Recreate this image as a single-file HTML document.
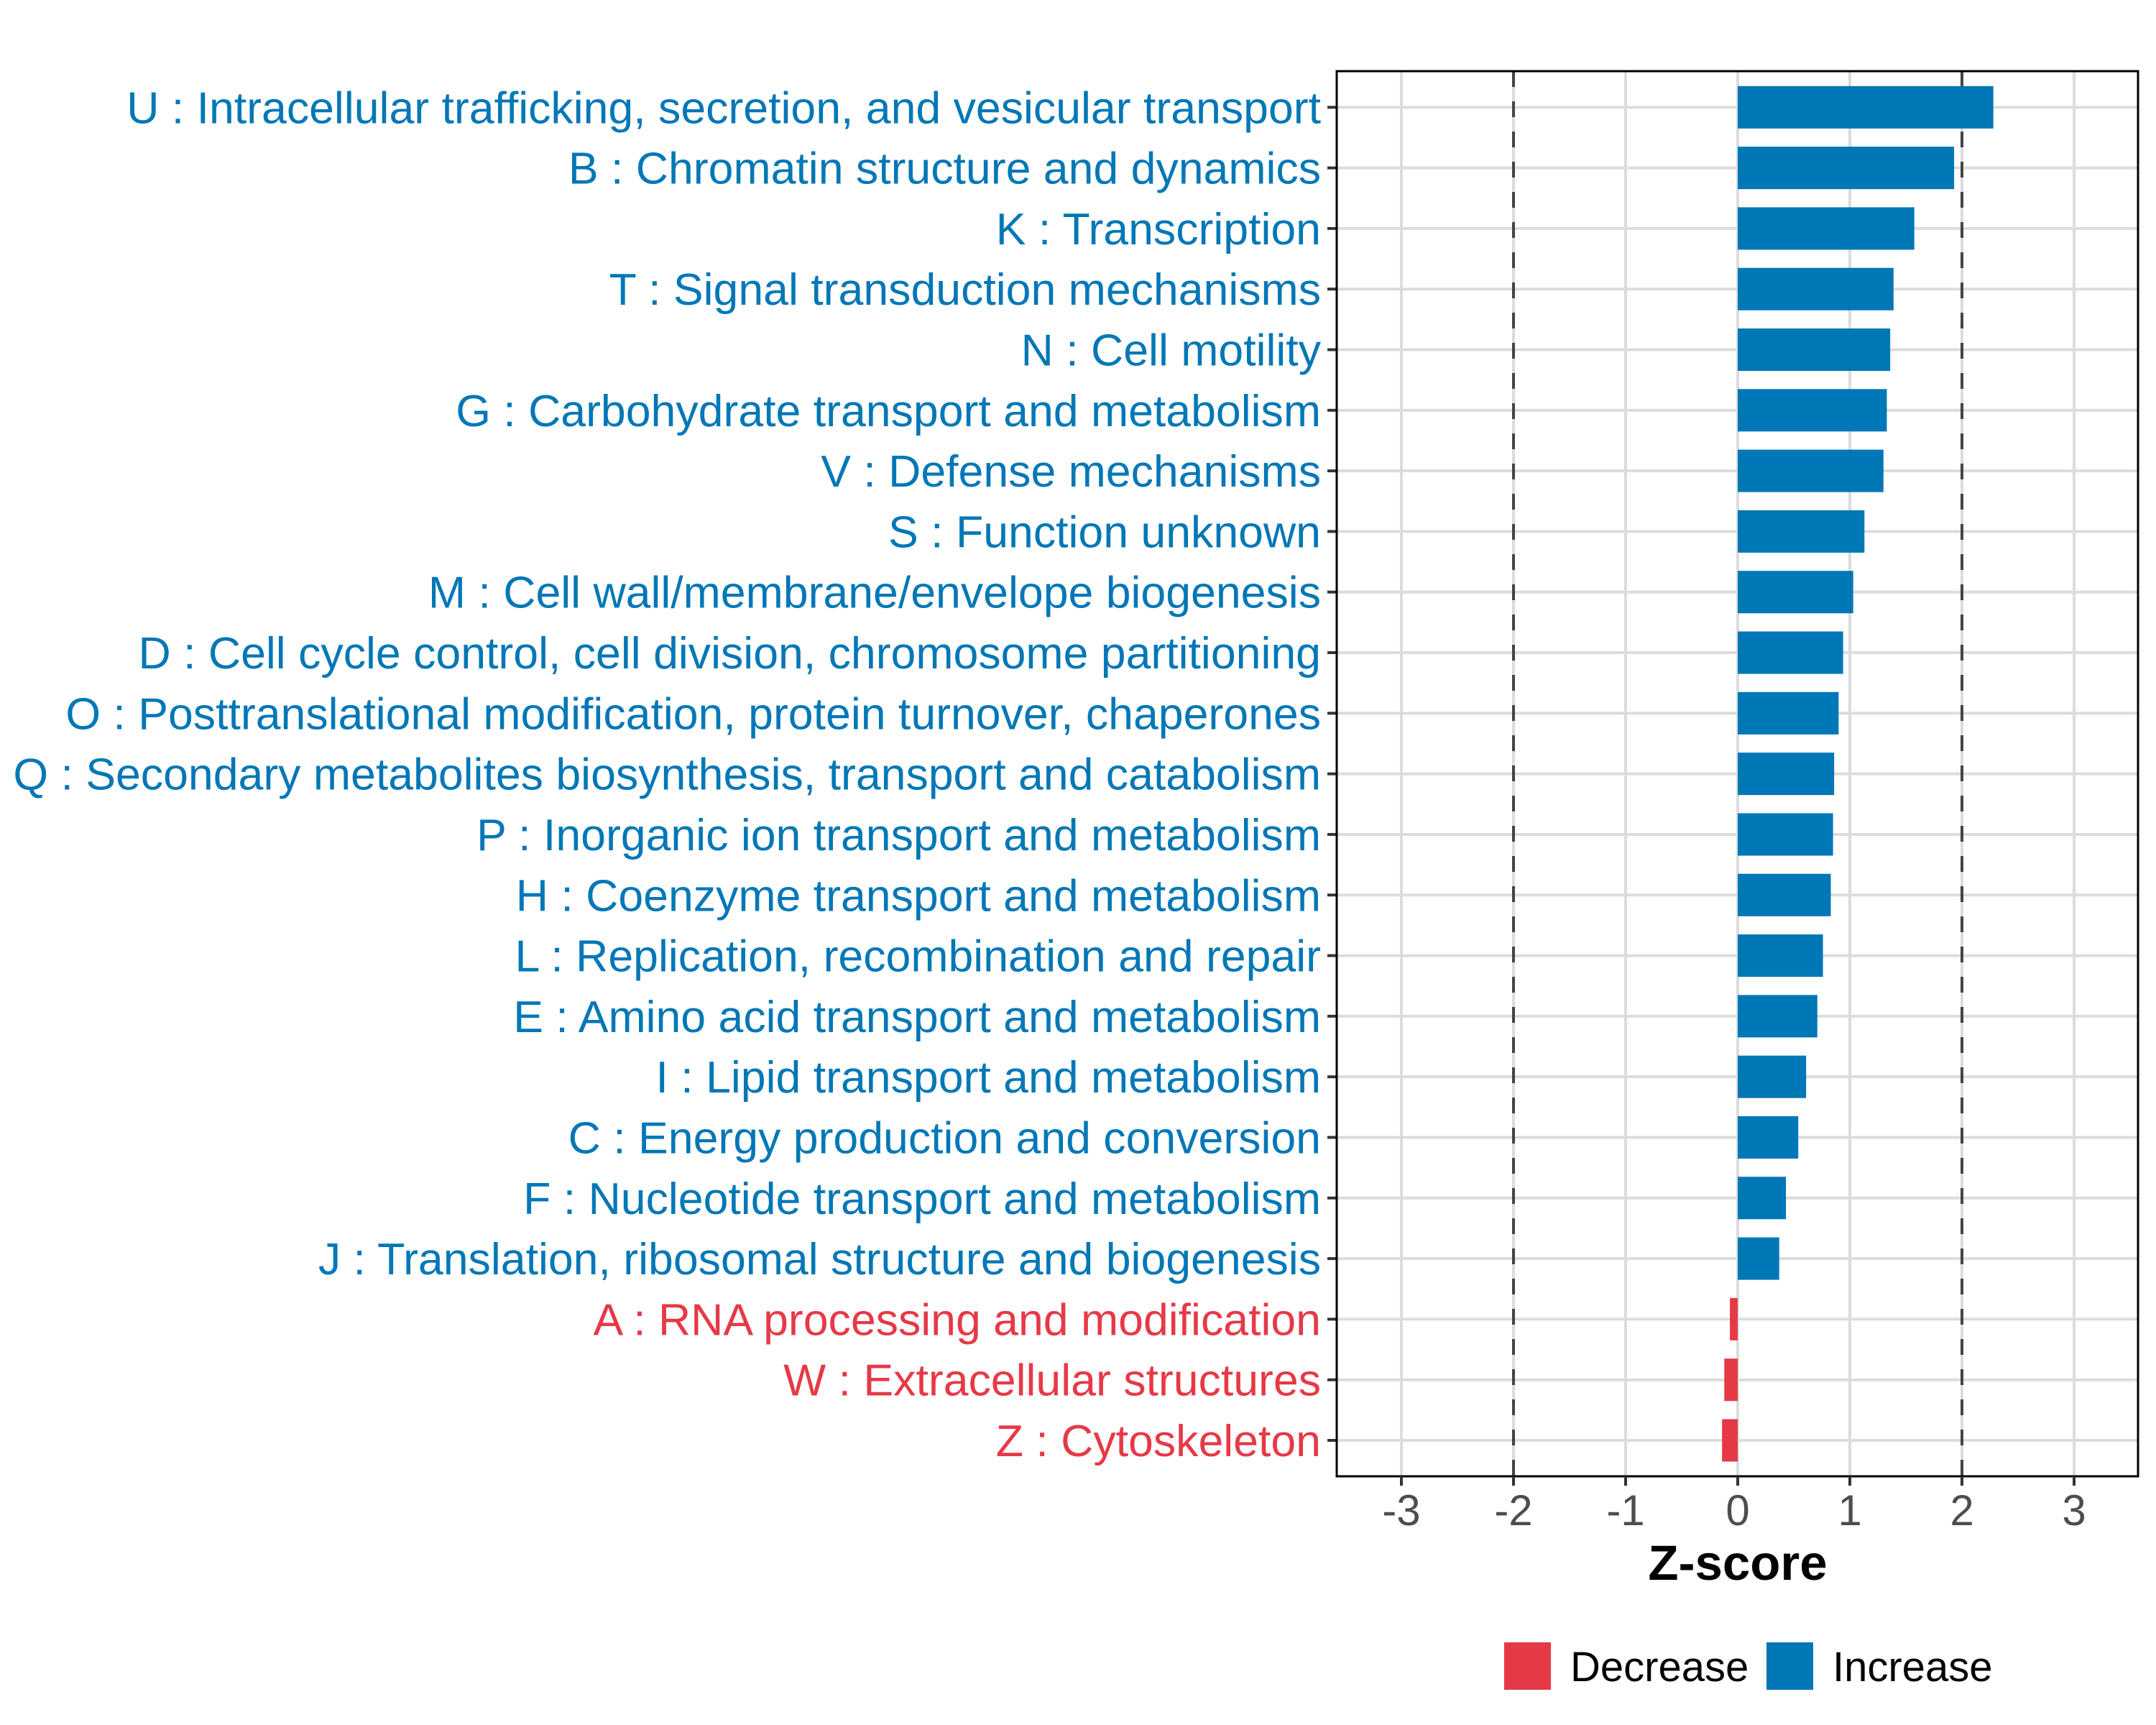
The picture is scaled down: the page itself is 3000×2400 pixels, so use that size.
<!DOCTYPE html>
<html><head><meta charset="utf-8"><style>
html,body{margin:0;padding:0;background:#fff;}
svg{display:block;font-family:"Liberation Sans",Arial,sans-serif;}
</style></head><body>
<svg id="chart" width="3000" height="2400" viewBox="0 0 3000 2400" xmlns="http://www.w3.org/2000/svg">
<rect width="3000" height="2400" fill="#fff"/>
<g id="grid"></g><g id="marks"></g><g id="axes"></g>
</svg>
<script>
const categories = [
"U : Intracellular trafficking, secretion, and vesicular transport",
"B : Chromatin structure and dynamics",
"K : Transcription",
"T : Signal transduction mechanisms",
"N : Cell motility",
"G : Carbohydrate transport and metabolism",
"V : Defense mechanisms",
"S : Function unknown",
"M : Cell wall/membrane/envelope biogenesis",
"D : Cell cycle control, cell division, chromosome partitioning",
"O : Posttranslational modification, protein turnover, chaperones",
"Q : Secondary metabolites biosynthesis, transport and catabolism",
"P : Inorganic ion transport and metabolism",
"H : Coenzyme transport and metabolism",
"L : Replication, recombination and repair",
"E : Amino acid transport and metabolism",
"I : Lipid transport and metabolism",
"C : Energy production and conversion",
"F : Nucleotide transport and metabolism",
"J : Translation, ribosomal structure and biogenesis",
"A : RNA processing and modification",
"W : Extracellular structures",
"Z : Cytoskeleton"];
const zscores = [2.28,1.93,1.575,1.39,1.36,1.33,1.30,1.13,1.03,0.94,0.90,0.86,0.85,0.83,0.76,0.71,0.61,0.54,0.43,0.37,-0.07,-0.12,-0.14];
const xTicks = [-3,-2,-1,0,1,2,3];
const thresholds = [-2,2];
const legendLabels = ["Decrease","Increase"];

const NS="http://www.w3.org/2000/svg";
const BLUE="#0077B6", RED="#E63946";
const PL=1860, PR=2975, PT=99, PB=2054;
const X0=2418, UNIT=156;
const xScale = v => X0 + v*UNIT;
const ROW0=149.3, STEP=(2004-149.3)/22;
const yScale = i => ROW0 + i*STEP;
function mk(tag, attrs, parent){const e=document.createElementNS(NS,tag);for(const k in attrs)e.setAttribute(k,attrs[k]);parent.appendChild(e);return e;}
const grid=document.getElementById('grid'), marks=document.getElementById('marks'), axes=document.getElementById('axes');

xTicks.forEach(t=>{
  const l=mk('line',{x1:xScale(t),x2:xScale(t),y1:PT,y2:PB,stroke:'#dcdcdc','stroke-width':4},grid);
  
  
});
categories.forEach((c,i)=>{
  const l=mk('line',{x1:PL,x2:PR,y1:yScale(i),y2:yScale(i),stroke:'#dcdcdc','stroke-width':4},grid);
  
  
});
thresholds.forEach(t=>{
  const l=mk('line',{x1:xScale(t),x2:xScale(t),y1:PT,y2:PB,stroke:'#444','stroke-width':4,'stroke-dasharray':'22 20'},grid);
  
  
});
const barH=STEP*0.7;
zscores.forEach((v,i)=>{
  const x1=Math.min(xScale(0),xScale(v)), x2=Math.max(xScale(0),xScale(v));
  const r=mk('rect',{x:x1,y:yScale(i)-barH/2,width:x2-x1,height:barH,fill:v<0?RED:BLUE},marks);
  
  
  const tk=mk('line',{x1:PL-13,x2:PL,y1:yScale(i),y2:yScale(i),stroke:'#333','stroke-width':4},axes);
  
  
  const tx=mk('text',{x:1838,y:yScale(i)+22,'text-anchor':'end','font-size':62.6,fill:v<0?RED:BLUE},axes);
  tx.textContent=categories[i];
  
  
});
const border=mk('rect',{x:PL,y:PT,width:PR-PL,height:PB-PT,fill:'none',stroke:'#000','stroke-width':3},axes);


xTicks.forEach(t=>{
  const l=mk('line',{x1:xScale(t),x2:xScale(t),y1:PB,y2:PB+13,stroke:'#333','stroke-width':4},axes);
  
  
  const tx=mk('text',{x:xScale(t),y:2122,'text-anchor':'middle','font-size':60,fill:'#4d4d4d'},axes);
  tx.textContent=String(t);
  
  
});
const title=mk('text',{x:2418,y:2198,'text-anchor':'middle','font-size':69,'font-weight':'bold',fill:'#000'},axes);
title.textContent='Z-score';


const legX=[2093,2458], legC=[RED,BLUE];
legendLabels.forEach((lab,i)=>{
  const r=mk('rect',{x:legX[i],y:2285,width:65,height:66,fill:legC[i]},axes);
  
  
  const tx=mk('text',{x:legX[i]+92,y:2339,'font-size':58,fill:'#000'},axes);
  tx.textContent=lab;
  
  
});
</script>
</body></html>
